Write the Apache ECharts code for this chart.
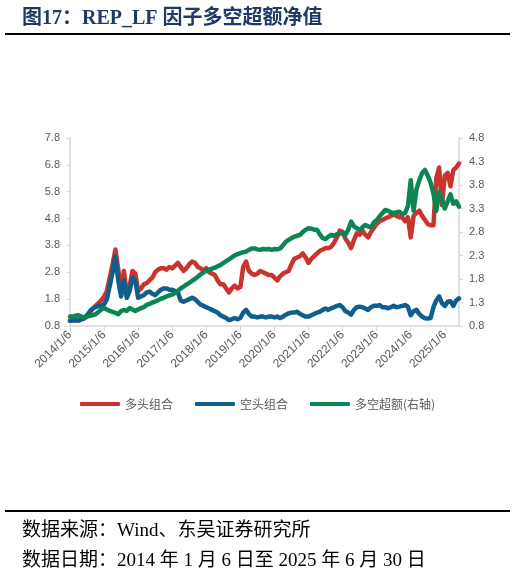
<!DOCTYPE html>
<html>
<head>
<meta charset="utf-8">
<style>
  html, body { margin: 0; padding: 0; background: #fff; }
  #chart { width: 515px; height: 573px; }
</style>
<script src="https://cdn.jsdelivr.net/npm/echarts@6/dist/echarts.min.js"></script>
</head>
<body>
<div id="chart"></div>
<script>
// 月度日期 2014/1 ~ 2025/6
const dates = []
for (let y = 2014; y <= 2025; y++) {
  for (let m = 1; m <= 12; m++) {
    if (y === 2025 && m > 6) break
    dates.push(y + '/' + m + '/6')
  }
}
dates[dates.length - 1] = '2025/6/30'

const seriesNames = ['多头组合', '空头组合', '多空超额(右轴)']
const leftTicks = [0.8, 7.8, 1]   // min, max, interval
const rightTicks = [0.8, 4.8, 0.5]

// 多头组合
const longNav = [
  1.0, 1.02, 1.0, 1.02, 1.05, 1.08, 1.15, 1.3, 1.45, 1.55, 1.65, 1.75,
  1.9, 2.1, 2.6, 3.1, 3.65, 2.9, 2.1, 2.85, 1.95, 2.3, 2.85, 2.75,
  2.1, 2.2, 2.35, 2.4, 2.5, 2.6, 2.8, 2.9, 2.95, 2.95, 2.9, 3.0,
  2.95, 3.05, 3.15, 3.0, 2.85, 2.95, 3.1, 3.2, 3.15, 3.0, 2.95, 2.85,
  2.95, 2.8, 2.75, 2.7, 2.5, 2.35, 2.35, 2.2, 2.05, 2.2, 2.3, 2.2,
  2.25, 3.0, 3.2, 2.85, 2.75, 2.7, 2.75, 2.85, 2.8, 2.75, 2.7, 2.7,
  2.6, 2.5, 2.65, 2.75, 2.8, 2.85, 3.1, 3.3, 3.35, 3.4, 3.5, 3.35,
  3.15, 3.3, 3.4, 3.5, 3.6, 3.65, 3.7, 3.7, 3.75, 3.9, 4.1, 4.35,
  4.3, 4.05, 3.9, 3.7, 4.0, 4.25, 4.2, 4.35, 4.2, 4.1, 4.3, 4.45,
  4.6, 4.7, 4.75, 4.8, 4.85, 4.9, 4.95, 4.9, 4.85, 4.85, 4.7, 4.85,
  4.1, 4.9, 5.0, 5.1, 4.9, 4.75, 4.6, 4.55, 4.55, 6.3, 6.7, 5.3,
  6.4, 6.5, 6.0, 6.6, 6.7, 6.85
]

// 空头组合
const shortNav = [
  1.0, 1.0, 1.02, 1.0, 1.05, 1.1, 1.2, 1.35, 1.45, 1.5, 1.55, 1.55,
  1.6, 1.8, 2.3, 2.8, 3.4, 2.5, 1.9, 2.5, 1.85, 2.1, 2.6, 2.5,
  1.85, 1.9, 1.95, 2.05, 2.08, 2.0, 1.95, 2.05, 2.15, 2.2, 2.2, 2.15,
  2.15, 2.1, 2.05, 1.75, 1.7, 1.75, 1.8, 1.85, 1.8, 1.7, 1.6, 1.55,
  1.5, 1.45, 1.4, 1.35, 1.3, 1.2, 1.15, 1.1, 1.02, 1.05, 1.1, 1.05,
  1.1, 1.3, 1.4, 1.25, 1.15, 1.15, 1.12, 1.15, 1.15, 1.12, 1.15, 1.15,
  1.12, 1.15, 1.1, 1.15, 1.22, 1.27, 1.3, 1.3, 1.33, 1.25, 1.2, 1.15,
  1.15, 1.2, 1.25, 1.3, 1.33, 1.4, 1.45, 1.4, 1.46, 1.5, 1.55, 1.58,
  1.5, 1.35, 1.3, 1.22, 1.4, 1.5, 1.52, 1.5, 1.45, 1.4, 1.5, 1.55,
  1.55, 1.58, 1.5, 1.5, 1.46, 1.5, 1.55, 1.5, 1.52, 1.55, 1.58, 1.52,
  1.2, 1.35, 1.4, 1.25, 1.15, 1.09, 1.08, 1.1, 1.5, 1.75, 1.9, 1.65,
  1.55, 1.7, 1.72, 1.55, 1.75, 1.83
]

// 多空超额（右轴）
const excessNav = [
  1.0, 1.0, 1.02, 1.03, 1.0, 0.98, 1.0, 1.02, 1.03, 1.05, 1.1, 1.15,
  1.18, 1.15, 1.12, 1.1, 1.08, 1.05, 1.12, 1.14, 1.12, 1.18, 1.15, 1.12,
  1.15, 1.18, 1.2, 1.25, 1.27, 1.3, 1.32, 1.35, 1.38, 1.4, 1.43, 1.45,
  1.47, 1.5, 1.55, 1.6, 1.64, 1.68, 1.72, 1.76, 1.8, 1.85, 1.9, 1.94,
  1.98, 2.0, 2.02, 2.04, 2.07, 2.1, 2.14, 2.18, 2.22, 2.26, 2.3, 2.33,
  2.35, 2.37, 2.38, 2.42, 2.45, 2.45, 2.43, 2.42, 2.44, 2.43, 2.44, 2.42,
  2.44, 2.43, 2.45, 2.52, 2.59, 2.63, 2.67, 2.7, 2.72, 2.74, 2.8, 2.85,
  2.88, 2.87, 2.85, 2.85, 2.75, 2.67, 2.65, 2.7, 2.74, 2.72, 2.75, 2.77,
  2.78, 2.74, 2.85, 3.02, 2.92, 2.88, 2.84, 2.9, 2.95, 2.92, 2.9, 3.0,
  3.05, 3.13, 3.2, 3.27, 3.25, 3.22, 3.2, 3.22, 3.23, 3.18, 3.2, 3.35,
  3.9, 3.25, 3.7, 3.9, 4.05, 4.12, 4.0, 3.85, 3.62, 3.25, 3.65, 3.5,
  3.3, 3.45, 3.6, 3.4, 3.45, 3.34
]

const colors = ['#C9352E', '#0F5F8C', '#0B8552']
const axisGray = '#D9D9D9'
const labelGray = '#595959'
const serif = "'Liberation Serif', 'Noto Sans CJK SC', serif"

const chart = echarts.init(document.getElementById('chart'))

const yearTick = (index) => index % 12 === 0

const option = {
  animation: false,
  backgroundColor: '#fff',
  color: colors,
  title: [
    {
      text: '图17：REP_LF 因子多空超额净值',
      left: 17, top: 4,
      textStyle: { fontFamily: serif, fontSize: 20, fontWeight: 'bold', color: '#1F3A68' }
    },
    {
      text: '数据来源：Wind、东吴证券研究所',
      left: 17, top: 517,
      textStyle: { fontFamily: serif, fontSize: 19, fontWeight: 'normal', color: '#000' }
    },
    {
      text: '数据日期：2014 年 1 月 6 日至 2025 年 6 月 30 日',
      left: 17, top: 547,
      textStyle: { fontFamily: serif, fontSize: 19, fontWeight: 'normal', color: '#000' }
    }
  ],
  graphic: [
    { type: 'line', shape: { x1: 5, y1: 34, x2: 510, y2: 34 }, style: { stroke: '#000', lineWidth: 2 } },
    { type: 'line', shape: { x1: 5, y1: 511, x2: 510, y2: 511 }, style: { stroke: '#000', lineWidth: 2 } }
  ],
  legend: {
    data: seriesNames,
    top: 393,
    left: 'center',
    icon: 'roundRect',
    itemWidth: 40,
    itemHeight: 4,
    itemGap: 22,
    textStyle: { fontFamily: 'Noto Sans CJK SC', fontSize: 12, color: labelGray }
  },
  grid: { left: 70, right: 56, top: 138, bottom: 247 },
  xAxis: {
    type: 'category',
    data: dates,
    boundaryGap: false,
    axisLine: { lineStyle: { color: axisGray, width: 1.5 } },
    axisTick: { interval: yearTick, length: 5, lineStyle: { color: axisGray } },
    axisLabel: {
      interval: yearTick,
      rotate: 45,
      margin: 7,
      fontFamily: 'Liberation Sans',
      fontSize: 12,
      color: labelGray
    },
    splitLine: { show: false }
  },
  yAxis: [
    {
      type: 'value',
      min: leftTicks[0], max: leftTicks[1], interval: leftTicks[2],
      axisLine: { show: true, lineStyle: { color: axisGray, width: 1.5 } },
      axisTick: { show: true, length: 4, lineStyle: { color: axisGray } },
      axisLabel: {
        margin: 10,
        fontFamily: 'Liberation Sans', fontSize: 11, color: labelGray,
        formatter: v => v.toFixed(1)
      },
      splitLine: { show: false }
    },
    {
      type: 'value',
      position: 'right',
      min: rightTicks[0], max: rightTicks[1], interval: rightTicks[2],
      axisLine: { show: true, lineStyle: { color: axisGray, width: 1.5 } },
      axisTick: { show: true, length: 4, lineStyle: { color: axisGray } },
      axisLabel: {
        margin: 10,
        fontFamily: 'Liberation Sans', fontSize: 11, color: labelGray,
        formatter: v => v.toFixed(1)
      },
      splitLine: { show: false }
    }
  ],
  series: [
    { name: seriesNames[0], type: 'line', yAxisIndex: 0, data: longNav },
    { name: seriesNames[1], type: 'line', yAxisIndex: 0, data: shortNav },
    { name: seriesNames[2], type: 'line', yAxisIndex: 1, data: excessNav }
  ].map(s => Object.assign(s, {
    showSymbol: false,
    symbol: 'none',
    lineStyle: { width: 4.5, cap: 'round', join: 'round' }
  }))
}

chart.setOption(option)
</script>
</body>
</html>
